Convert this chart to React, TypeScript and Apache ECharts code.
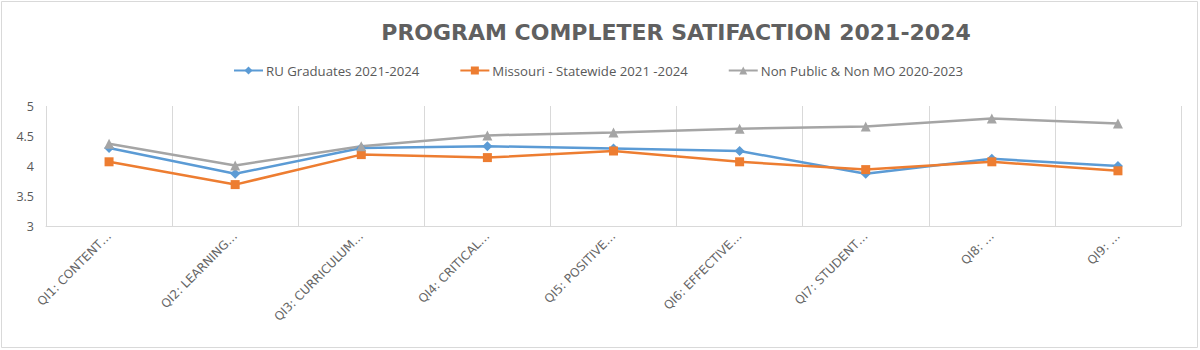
import React, { useEffect, useRef } from "react";
import * as echarts from "echarts";

const categories = [
  "QI1: CONTENT…",
  "QI2: LEARNING…",
  "QI3: CURRICULUM…",
  "QI4: CRITICAL…",
  "QI5: POSITIVE…",
  "QI6: EFFECTIVE…",
  "QI7: STUDENT…",
  "QI8: …",
  "QI9: …",
];
const ruGraduates = [4.3, 3.87, 4.3, 4.33, 4.29, 4.25, 3.87, 4.12, 4.0];
const missouriStatewide = [4.07, 3.69, 4.19, 4.14, 4.25, 4.07, 3.94, 4.07, 3.92];
const nonPublic = [4.37, 4.01, 4.33, 4.51, 4.56, 4.62, 4.66, 4.79, 4.71];
const yTicks = { min: 3, max: 5, interval: 0.5 };

export default function App() {
  const ref = useRef<HTMLDivElement>(null);
  useEffect(() => {
    document.body.style.margin = "0";
    const chart = echarts.init(ref.current!, undefined, { renderer: "svg" });
    const mk = (name: string, data: number[], color: string, symbol: string, size: number) => ({
      name,
      type: "line",
      data,
      symbol,
      symbolSize: size,
      lineStyle: { color, width: 2.5 },
      itemStyle: { color },
      emphasis: { disabled: true },
    });
    chart.setOption({
      animation: false,
      backgroundColor: "#ffffff",
      title: {
        text: "PROGRAM COMPLETER SATIFACTION 2021-2024",
        left: 671,
        textAlign: "center",
        top: 16,
        textStyle: { fontFamily: "DejaVu Sans", fontSize: 22, fontWeight: "bold", color: "#606060" },
      },
      legend: {
        top: 64,
        left: 233,
        padding: 0,
        itemWidth: 29,
        itemHeight: 10,
        itemGap: 40,
        textStyle: { fontFamily: "Open Sans", fontSize: 13.2, color: "#595959", padding: [0, 0, 0, -2] },
        data: ["RU Graduates 2021-2024", "Missouri - Statewide 2021 -2024", "Non Public & Non MO 2020-2023"],
      },
      graphic: [
        {
          type: "rect",
          shape: { x: 1.5, y: 1.5, width: 1196, height: 346 },
          style: { fill: "none", stroke: "#d9d9d9", lineWidth: 1 },
          silent: true,
        },
      ],
      grid: { left: 46, right: 19, top: 106, bottom: 124 },
      xAxis: {
        type: "category",
        data: categories,
        boundaryGap: true,
        axisLine: { lineStyle: { color: "#d9d9d9", width: 1 } },
        axisTick: { show: false },
        splitLine: { show: true, lineStyle: { color: "#d9d9d9", width: 1 } },
        axisLabel: {
          rotate: 45,
          interval: 0,
          margin: 8,
          fontFamily: "DejaVu Sans",
          fontSize: 12,
          color: "#666666",
        },
      },
      yAxis: {
        type: "value",
        min: yTicks.min,
        max: yTicks.max,
        interval: yTicks.interval,
        axisLine: { show: false },
        axisTick: { show: false },
        splitLine: { show: false },
        axisLabel: { fontFamily: "Open Sans", fontSize: 12.5, color: "#595959", margin: 12 },
      },
      series: [
        mk("RU Graduates 2021-2024", ruGraduates, "#5B9BD5", "diamond", 10),
        mk("Missouri - Statewide 2021 -2024", missouriStatewide, "#ED7D31", "rect", 9),
        mk("Non Public & Non MO 2020-2023", nonPublic, "#A5A5A5", "triangle", 10),
      ],
    });
    return () => chart.dispose();
  }, []);
  return <div ref={ref} style={{ width: 1200, height: 350 }} />;
}
